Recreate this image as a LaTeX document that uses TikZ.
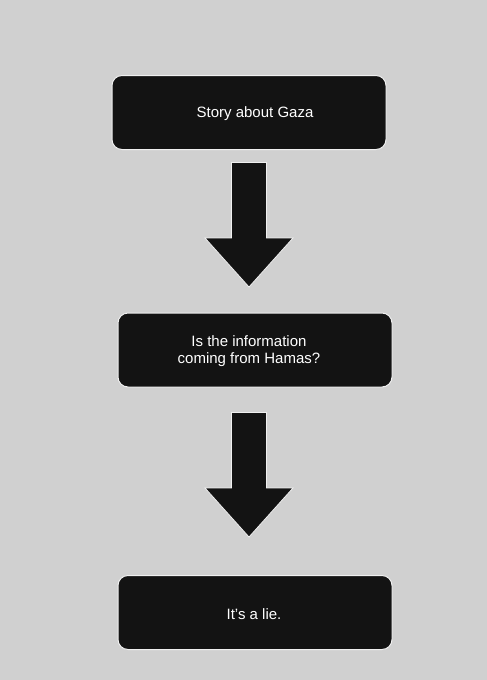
\documentclass[tikz,border=0pt]{standalone}
\usepackage{fontspec}
\setmainfont{Liberation Sans}
\usepackage{tikz}
\usetikzlibrary{positioning}

\definecolor{sfondo}{HTML}{D0D0D0}
\definecolor{scatola}{HTML}{131313}
\definecolor{bordo}{HTML}{F0F0F0}

\tikzset{
  box/.style={draw=bordo, line width=1pt, fill=scatola, rounded corners=10pt,
    minimum width=274pt, minimum height=74pt},
  testo/.style={align=center, text=white, inner sep=0pt,
    font=\fontsize{15}{17}\selectfont},
  bigarrow/.pic={
    \filldraw[fill=scatola, draw=bordo, line width=0.8pt]
      (-17.5,0) -- (17.5,0) -- (17.5,75.5) -- (44,75.5) -- (0,124.5)
      -- (-44,75.5) -- (-17.5,75.5) -- cycle;
  }
}

\begin{document}
\begin{tikzpicture}[x=1pt, y=-1pt]

  % Sfondo
  \fill[sfondo] (0,0) rectangle (487,680);
  \useasboundingbox (0,0) rectangle (487,680);

  % Scatole
  \node[box] (story) at (249,112.5) {};
  \node[box] (hamas) at (255,350) {};
  \node[box] (lie) at (255,612.5) {};

  % Testi
  \node[testo] (storyt) at ([xshift=6pt, yshift=-1.5pt]story.center) {Story about Gaza};
  \node[testo] (hamast) at ([xshift=-6pt, yshift=-1pt]hamas.center) {Is the information\\coming from Hamas?};
  \node[testo] (liet) at ([xshift=-1pt, yshift=-1.5pt]lie.center) {It's a lie.};

  % Frecce
  \pic at (249,162.5) {bigarrow};
  \pic at (249,412.5) {bigarrow};

\end{tikzpicture}
\end{document}
